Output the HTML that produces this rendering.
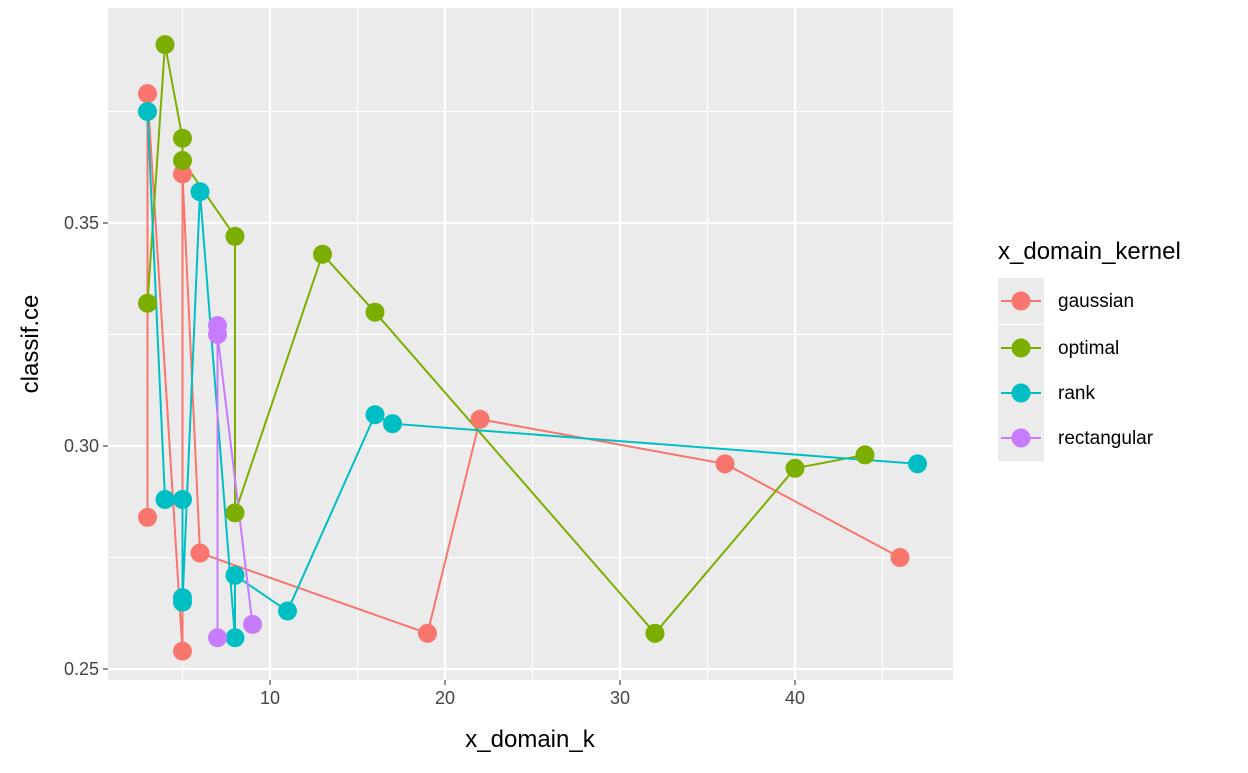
<!DOCTYPE html>
<html><head><meta charset="utf-8"><style>
body{margin:0;background:#fff;}
svg text{font-family:"Liberation Sans",sans-serif;}
</style></head><body>
<svg id="chart" width="1248" height="768" xmlns="http://www.w3.org/2000/svg">
<rect x="108" y="8" width="845" height="672" fill="#ebebeb"/>
<g id="grid"></g><g id="series"></g><g id="axes"></g>
<text x="530" y="747" font-size="24" text-anchor="middle">x_domain_k</text>
<text transform="translate(38,344) rotate(-90)" font-size="24" text-anchor="middle">classif.ce</text>
<text x="998" y="259" font-size="24">x_domain_kernel</text>
<g id="legend"></g>
</svg>
<script>
const xTicks=[10,20,30,40];
const yTicks=[0.25,0.30,0.35];
const yTickLabels=["0.25","0.30","0.35"];
const seriesNames=["gaussian","optimal","rank","rectangular"];
const colors=["#F8766D","#7CAE00","#00BFC4","#C77CFF"];
const gaussX=[3,3,5,5,6,19,22,36,46];
const gaussY=[0.284,0.379,0.254,0.361,0.276,0.258,0.306,0.296,0.275];
const optX=[3,4,5,5,8,8,13,16,32,40,44];
const optY=[0.332,0.390,0.369,0.364,0.347,0.285,0.343,0.330,0.258,0.295,0.298];
const rankX=[3,4,5,5,5,6,8,8,11,16,17,47];
const rankY=[0.375,0.288,0.288,0.266,0.265,0.357,0.257,0.271,0.263,0.307,0.305,0.296];
const rectX=[7,7,7,9];
const rectY=[0.257,0.327,0.325,0.260];
const NS="http://www.w3.org/2000/svg";
const sx=v=>95+17.5*v;
const sy=v=>669-(v-0.25)*4460;
function mk(tag,attrs,parent){const e=document.createElementNS(NS,tag);for(const k in attrs)e.setAttribute(k,attrs[k]);document.getElementById(parent).appendChild(e);return e;}
[5,15,25,35,45].forEach(v=>{const l=mk('line',{x1:sx(v),x2:sx(v),y1:8,y2:680,stroke:'#fff','stroke-width':1},'grid');

});
[0.275,0.325,0.375].forEach(v=>{const l=mk('line',{x1:108,x2:953,y1:sy(v),y2:sy(v),stroke:'#fff','stroke-width':1},'grid');

});
xTicks.forEach(v=>{const l=mk('line',{x1:sx(v),x2:sx(v),y1:8,y2:680,stroke:'#fff','stroke-width':2.2},'grid');


const t=mk('line',{x1:sx(v),x2:sx(v),y1:680,y2:685,stroke:'#333','stroke-width':1.1},'axes');


const tx=mk('text',{x:sx(v),y:704,'font-size':18,fill:'#444','text-anchor':'middle'},'axes');tx.textContent=v;

});
yTicks.forEach((v,i)=>{const l=mk('line',{x1:108,x2:953,y1:sy(v),y2:sy(v),stroke:'#fff','stroke-width':2.2},'grid');


const t=mk('line',{x1:103,x2:108,y1:sy(v),y2:sy(v),stroke:'#333','stroke-width':1.1},'axes');


const tx=mk('text',{x:99,y:sy(v)+6,'font-size':18,fill:'#444','text-anchor':'end'},'axes');tx.textContent=yTickLabels[i];

});
const data=[[gaussX,gaussY],[optX,optY],[rankX,rankY],[rectX,rectY]];
data.forEach((d,s)=>{const pts=d[0].map((x,i)=>sx(x)+','+sy(d[1][i])).join(' ');
const pl=mk('polyline',{points:pts,fill:'none',stroke:colors[s],'stroke-width':2},'series');

});
data.forEach((d,s)=>{d[0].forEach((x,i)=>{const c=mk('circle',{cx:sx(x),cy:sy(d[1][i]),r:9.5,fill:colors[s]},'series');

});});
const ly=[301,348,393,438];
seriesNames.forEach((n,i)=>{const r=mk('rect',{x:998,y:ly[i]-23,width:46,height:46,fill:'#ebebeb'},'legend');


const l=mk('line',{x1:1001,x2:1041,y1:ly[i],y2:ly[i],stroke:colors[i],'stroke-width':2},'legend');


const c=mk('circle',{cx:1021,cy:ly[i],r:9.5,fill:colors[i]},'legend');


const t=mk('text',{x:1058,y:ly[i]+6,'font-size':19},'legend');t.textContent=n;

});
</script>
</body></html>
